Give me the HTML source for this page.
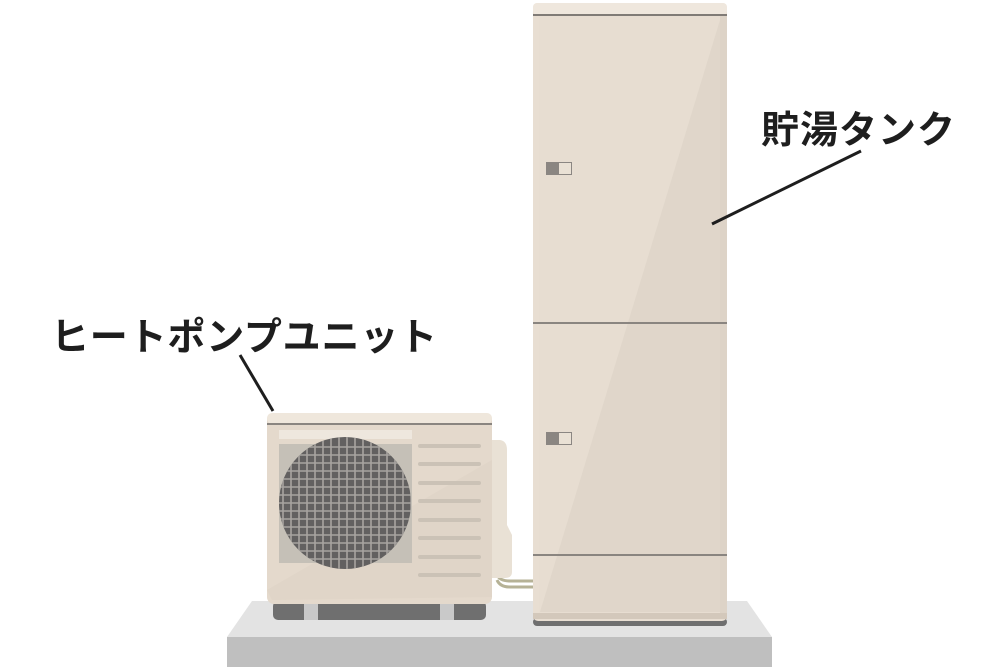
<!DOCTYPE html>
<html><head><meta charset="utf-8"><style>
html,body{margin:0;padding:0;background:#fff;width:1000px;height:668px;overflow:hidden}
svg{display:block}
text{font-family:"Liberation Sans","Noto Sans CJK JP",sans-serif;font-weight:bold;fill:#1e1e1e}
</style></head><body>
<svg width="1000" height="668" viewBox="0 0 1000 668" xmlns="http://www.w3.org/2000/svg">
<defs>
<clipPath id="fc"><circle cx="345" cy="503" r="66"/></clipPath>
</defs>
<polygon points="252,601 747,601 772,637 227,637" fill="#e3e3e3"/>
<rect x="227" y="637" width="545" height="30" fill="#bfbfbf"/>
<path d="M497,575 Q500,581 510,581 L534,581" fill="none" stroke="#b6b296" stroke-width="3"/>
<path d="M497,580 Q500,587 510,587 L534,587" fill="none" stroke="#b6b296" stroke-width="3"/>
<path d="M490,440 L500,440 Q507,441 507,450 L507,525 L512,535 L512,572 Q512,578 505,578 L490,578 Z" fill="#e9e1d5"/>
<rect x="273" y="601" width="213" height="19" rx="5" fill="#6f6f6f"/>
<rect x="304" y="603" width="14" height="17" fill="#c9c9c9"/>
<rect x="440" y="603" width="14" height="17" fill="#c9c9c9"/>
<rect x="267" y="413" width="225" height="191" rx="7" fill="#e4d9cc"/>
<rect x="267" y="413" width="225" height="11" rx="5" fill="#efe7dc"/>
<rect x="267" y="423" width="225" height="2" fill="#8a8580"/>
<polygon points="267,590 492,460 492,597 272,600" fill="#ddd2c4" opacity="0.6"/>
<rect x="279" y="430" width="133" height="9" fill="#eee7de"/>
<rect x="279" y="444" width="133" height="119" fill="#c5c0b7"/>
<circle cx="345" cy="503" r="66" fill="#626060"/>
<g clip-path="url(#fc)" stroke="#a8a4a0" stroke-width="1.6">
<path d="M279,447H412M279,455H412M279,463H412M279,471H412M279,479H412M279,487H412M279,495H412M279,503H412M279,511H412M279,519H412M279,527H412M279,535H412M279,543H412M279,551H412M279,559H412"/>
<path d="M283,437V570M291,437V570M299,437V570M307,437V570M315,437V570M323,437V570M331,437V570M339,437V570M347,437V570M355,437V570M363,437V570M371,437V570M379,437V570M387,437V570M395,437V570M403,437V570M411,437V570"/>
</g>
<g stroke="#cbc2b6" stroke-width="4" stroke-linecap="round">
<path d="M420,446H479M420,464H479M420,483H479M420,501H479M420,520H479M420,538H479M420,557H479M420,575H479"/>
</g>
<rect x="533" y="618" width="194" height="8" rx="4" fill="#6f6f6f"/>
<rect x="533" y="3" width="194" height="618" rx="5" fill="#e8ded2"/>
<rect x="533" y="3" width="194" height="12" rx="4" fill="#efe7dd"/>
<rect x="533" y="14" width="194" height="2" fill="#807b76"/>
<rect x="539" y="16" width="183" height="599" fill="#e7ddd1"/>
<polygon points="720,20 720,612 540,612" fill="#e0d6ca"/>
<rect x="720" y="16" width="7" height="600" fill="#ddd3c7"/>
<rect x="533" y="322" width="194" height="2" fill="#8a8580"/>
<rect x="533" y="554" width="194" height="2" fill="#8a8580"/>
<rect x="533" y="613" width="194" height="6" fill="#d3c8bb"/>
<rect x="546" y="162" width="26" height="13" fill="#8b8682"/>
<rect x="559" y="163" width="12" height="11" fill="#eae1d5"/>
<rect x="546" y="432" width="26" height="13" fill="#8b8682"/>
<rect x="559" y="433" width="12" height="11" fill="#eae1d5"/>
<line x1="712" y1="224" x2="861" y2="151" stroke="#1e1e1e" stroke-width="3"/>
<line x1="240" y1="355" x2="273" y2="411" stroke="#1e1e1e" stroke-width="3"/>
<text x="761" y="143" font-size="38" letter-spacing="1">貯湯タンク</text>
<text x="51" y="350" font-size="38" letter-spacing="0.8">ヒートポンプユニット</text>
</svg>
</body></html>
